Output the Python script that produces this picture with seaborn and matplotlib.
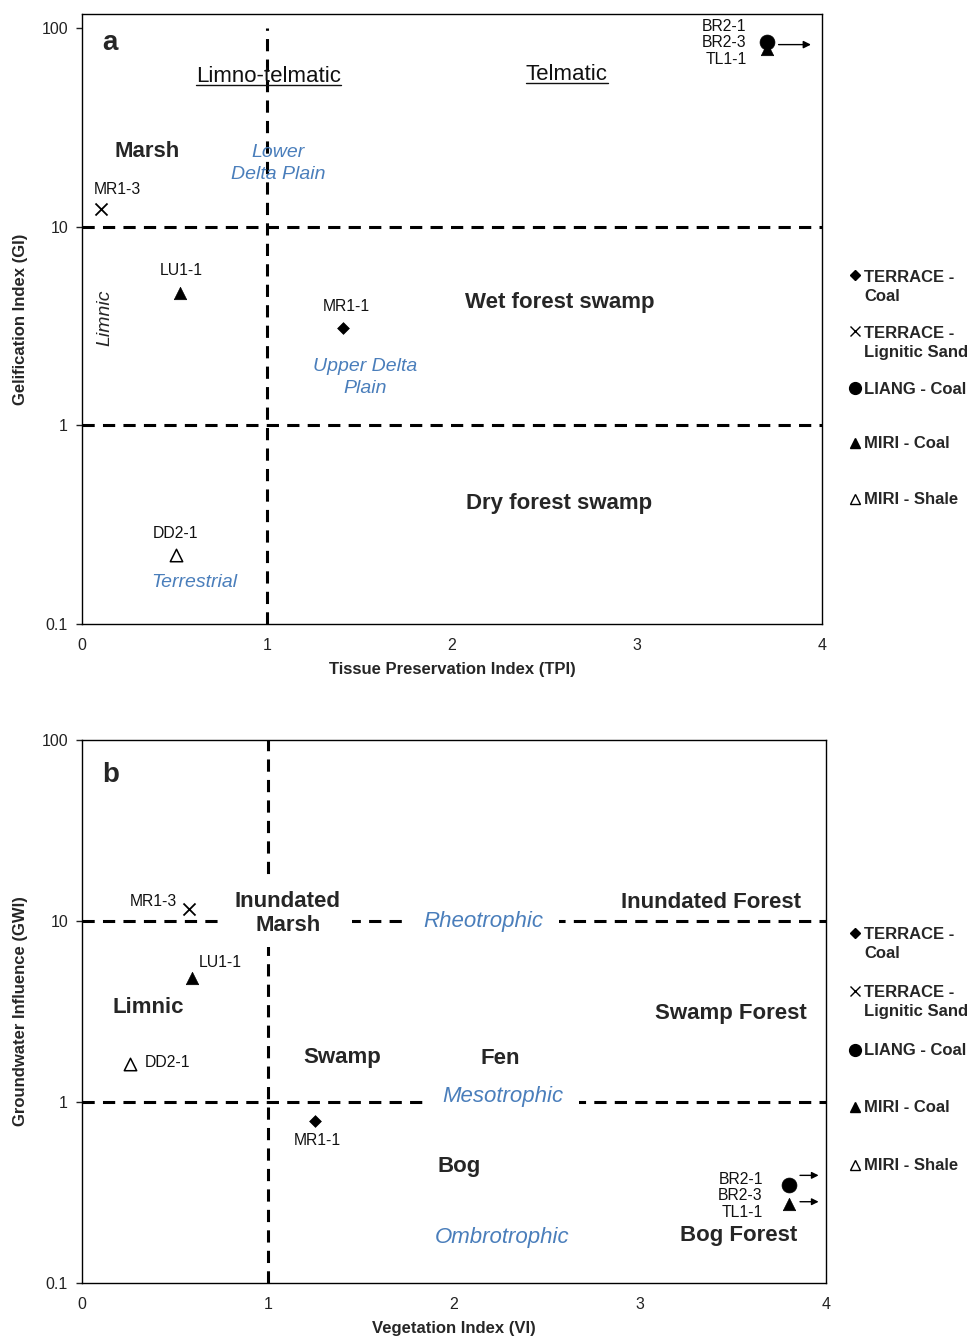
import numpy as np
import pandas as pd
import matplotlib
matplotlib.use("Agg")
import matplotlib.pyplot as plt
import seaborn as sns
from matplotlib.lines import Line2D
from matplotlib.legend_handler import HandlerLine2D
from matplotlib.ticker import NullLocator, FixedLocator, FixedFormatter

# ---------------- data ----------------
groups = ["TERRACE - Coal", "TERRACE - Lignitic Sand", "LIANG - Coal", "MIRI - Coal", "MIRI - Shale"]
legend_labels = ["TERRACE -\nCoal", "TERRACE -\nLignitic Sand", "LIANG - Coal", "MIRI - Coal", "MIRI - Shale"]

sample_group = ["TERRACE - Coal", "TERRACE - Lignitic Sand", "LIANG - Coal", "MIRI - Coal", "MIRI - Coal", "MIRI - Shale"]
sample_label = ["MR1-1", "MR1-3", "BR2-1\nBR2-3\nTL1-1", "", "LU1-1", "DD2-1"]

# panel a : TPI vs GI
a_tpi = [1.41, 0.10, 3.70, 3.70, 0.53, 0.51]
a_gi = [3.1, 12.3, 85.0, 78.0, 4.66, 0.222]
# panel b : VI vs GWI
b_vi = [1.25, 0.575, 3.80, 3.80, 0.59, 0.26]
b_gwi = [0.785, 11.6, 0.348, 0.273, 4.84, 1.62]

x_ticks = [0, 1, 2, 3, 4]
y_ticks = [0.1, 1, 10, 100]
y_ticklabels = ["0.1", "1", "10", "100"]

# ---------------- style ----------------
sns.set_theme(style="white")
plt.rcParams["font.family"] = ["Liberation Sans", "DejaVu Sans"]

BLUE = "#4a7ebb"
marker_style = {
    "TERRACE - Coal": dict(marker="D", s=36, color="black", edgecolor="black", linewidth=0.5),
    "TERRACE - Lignitic Sand": dict(marker="x", s=75, color="black", linewidth=1.3),
    "LIANG - Coal": dict(marker="o", s=115, color="black", edgecolor="black", linewidth=0.5),
    "MIRI - Coal": dict(marker="^", s=80, color="black", edgecolor="black", linewidth=0.5),
    "MIRI - Shale": dict(marker="^", s=80, color="white", edgecolor="black", linewidth=1.1),
}
legend_marker = {
    "TERRACE - Coal": dict(marker="D", markersize=5.3, markerfacecolor="black", markeredgecolor="black"),
    "TERRACE - Lignitic Sand": dict(marker="x", markersize=7.5, markeredgecolor="black", markeredgewidth=1.0),
    "LIANG - Coal": dict(marker="o", markersize=8.5, markerfacecolor="black", markeredgecolor="black"),
    "MIRI - Coal": dict(marker="^", markersize=7.5, markerfacecolor="black", markeredgecolor="black"),
    "MIRI - Shale": dict(marker="^", markersize=7.5, markerfacecolor="white", markeredgecolor="black", markeredgewidth=1.0),
}

DASH = (0, (4, 2.7))
DLW = 2.2


class ShiftHandler(HandlerLine2D):
    def __init__(self, shift=0.0, **kw):
        super().__init__(**kw)
        self.shift = shift

    def create_artists(self, legend, orig_handle, xdescent, ydescent, width, height, fontsize, trans):
        arts = super().create_artists(legend, orig_handle, xdescent, ydescent, width, height, fontsize, trans)
        for a in arts:
            a.set_ydata(np.asarray(a.get_ydata(), dtype=float) + self.shift * fontsize)
        return arts


def add_legend(ax, xpos, ypos):
    for grp, lab, yv in zip(groups, legend_labels, ypos):
        h = Line2D([], [], linestyle="none", **legend_marker[grp])
        n = lab.count("\n")
        leg = ax.legend(handles=[h], labels=[lab], loc="center left", bbox_to_anchor=(xpos, yv),
                        frameon=False, borderpad=0, borderaxespad=0, handlelength=0.6,
                        handletextpad=0.25, prop=dict(weight="bold", size=12),
                        handler_map={h: ShiftHandler(shift=n * 0.7)})
        for t in leg.get_texts():
            t.set_linespacing(1.4)
        ax.add_artist(leg)
    ax.legend_ = None


def style_axes(ax, ymax):
    ax.set_yscale("log")
    ax.set_xlim(0, 4)
    ax.set_ylim(0.1, ymax)
    ax.xaxis.set_major_locator(FixedLocator(x_ticks))
    ax.yaxis.set_major_locator(FixedLocator(y_ticks))
    ax.yaxis.set_major_formatter(FixedFormatter(y_ticklabels))
    ax.yaxis.set_minor_locator(NullLocator())
    ax.tick_params(axis="x", length=0, pad=10, labelsize=11.5, colors="#222222")
    ax.tick_params(axis="y", which="major", left=True, length=4.5, width=1, direction="out",
                   pad=5.5, labelsize=11.5, colors="#222222")
    for sp in ax.spines.values():
        sp.set_color("black")
        sp.set_linewidth(1.0)
    ax.grid(False)


def draw_points(ax, xs, ys, label_offsets):
    df = pd.DataFrame({"x": xs, "y": ys, "group": sample_group, "label": sample_label})
    for grp in groups:
        sub = df[df["group"] == grp]
        if len(sub):
            sns.scatterplot(data=sub, x="x", y="y", ax=ax, legend=False, zorder=5, **marker_style[grp])
    for i, row in df.iterrows():
        if row["label"]:
            dx, dy, ha = label_offsets[i]
            ax.annotate(row["label"], (row["x"], row["y"]), xytext=(dx, dy), textcoords="offset pixels",
                        ha=ha, va="center", fontsize=11.3, linespacing=1.15, color="#111111",
                        multialignment="right" if "\n" in row["label"] else None, zorder=6)
    return df


fig = plt.figure(figsize=(9.74, 13.37), dpi=100)
ax_a = fig.add_axes([0.0842, 0.5333, 0.7598, 0.4562])
ax_b = fig.add_axes([0.0842, 0.0404, 0.7639, 0.4061])

# ================= panel a =================
style_axes(ax_a, 117.5)
ax_a.axhline(10, ls=DASH, lw=DLW, color="black", zorder=2)
ax_a.axhline(1, ls=DASH, lw=DLW, color="black", zorder=2)
ax_a.vlines(1, 0.1, 100, linestyles=[DASH], lw=DLW, color="black", zorder=2)

offs_a = [(3, 21, "center"), (17, 19, "center"), (-20, -1, "right"), None, (1, 22, "center"), (-1, 22, "center")]
dfa = draw_points(ax_a, a_tpi, a_gi, offs_a)
# arrow for off-scale point
xa, ya = a_tpi[2], a_gi[2]
ax_a.annotate("", xy=(xa + 0.24, ya * 0.97), xytext=(xa + 0.065, ya * 0.97),
              arrowprops=dict(arrowstyle="-|>", lw=1.0, color="black", mutation_scale=11,
                              shrinkA=0, shrinkB=0), zorder=6)

ax_a.text(0.038, 0.952, "a", transform=ax_a.transAxes, fontsize=20, fontweight="bold", ha="center", va="center")
t1 = ax_a.text(1.01, 57, "Limno-telmatic", fontsize=16, ha="center", va="center", color="#111111")
t2 = ax_a.text(2.62, 58, "Telmatic", fontsize=16, ha="center", va="center", color="#111111")
ax_a.text(0.35, 24, "Marsh", fontsize=16, fontweight="bold", ha="center", va="center")
ax_a.text(1.06, 20.7, "Lower\nDelta Plain", fontsize=14, style="italic", color=BLUE, ha="center",
          va="center", linespacing=1.4)
ax_a.text(0.124, 3.47, "Limnic", fontsize=14, style="italic", rotation=90, ha="center", va="center")
ax_a.text(2.58, 4.17, "Wet forest swamp", fontsize=16, fontweight="bold", ha="center", va="center")
ax_a.text(1.53, 1.74, "Upper Delta\nPlain", fontsize=14, style="italic", color=BLUE, ha="center",
          va="center", linespacing=1.4)
ax_a.text(2.58, 0.406, "Dry forest swamp", fontsize=16, fontweight="bold", ha="center", va="center")
ax_a.text(0.605, 0.161, "Terrestrial", fontsize=14, style="italic", color=BLUE, ha="center", va="center")

ax_a.set_xlabel("Tissue Preservation Index (TPI)", fontsize=12, fontweight="bold", labelpad=6.5)
ax_a.set_ylabel("Gelification Index (GI)", fontsize=12, fontweight="bold", labelpad=10)
add_legend(ax_a, 1.0378, [0.5525, 0.4607, 0.3852, 0.2951, 0.2033])

# ================= panel b =================
style_axes(ax_b, 100)
ax_b.axhline(10, ls=DASH, lw=DLW, color="black", zorder=2)
ax_b.axhline(1, ls=DASH, lw=DLW, color="black", zorder=2)
ax_b.axvline(1, ls=DASH, lw=DLW, color="black", zorder=2)

offs_b = [(3, -19, "center"), (-12, 8, "right"), (-26, -11, "right"), None, (7, 16, "left"), (14, 2, "left")]
dfb = draw_points(ax_b, b_vi, b_gwi, offs_b)
for yv, fac in [(b_gwi[2], 1.13), (b_gwi[3], 1.03)]:
    xb = b_vi[2]
    ax_b.annotate("", xy=(xb + 0.16, yv * fac), xytext=(xb + 0.06, yv * fac),
                  arrowprops=dict(arrowstyle="-|>", lw=1.0, color="black", mutation_scale=10,
                                  shrinkA=0, shrinkB=0), zorder=6)

ax_b.text(0.038, 0.935, "b", transform=ax_b.transAxes, fontsize=20, fontweight="bold", ha="center", va="center")
ax_b.text(1.107, 11.0, "Inundated\nMarsh", fontsize=16, fontweight="bold", ha="center", va="center",
          linespacing=1.2, bbox=dict(boxstyle="square,pad=0.5", fc="white", ec="none"), zorder=4)
ax_b.text(2.16, 9.95, "Rheotrophic", fontsize=16, style="italic", color=BLUE, ha="center", va="center",
          bbox=dict(boxstyle="square,pad=0.7", fc="white", ec="none"), zorder=4)
ax_b.text(3.38, 12.6, "Inundated Forest", fontsize=16, fontweight="bold", ha="center", va="center")
ax_b.text(0.355, 3.33, "Limnic", fontsize=16, fontweight="bold", ha="center", va="center")
ax_b.text(3.49, 3.08, "Swamp Forest", fontsize=16, fontweight="bold", ha="center", va="center")
ax_b.text(1.40, 1.76, "Swamp", fontsize=16, fontweight="bold", ha="center", va="center")
ax_b.text(2.25, 1.75, "Fen", fontsize=16, fontweight="bold", ha="center", va="center")
ax_b.text(2.26, 1.07, "Mesotrophic", fontsize=16, style="italic", color=BLUE, ha="center", va="center",
          bbox=dict(boxstyle="square,pad=0.7", fc="white", ec="none"), zorder=4)
ax_b.text(2.03, 0.44, "Bog", fontsize=16, fontweight="bold", ha="center", va="center")
ax_b.text(2.26, 0.179, "Ombrotrophic", fontsize=16, style="italic", color=BLUE, ha="center", va="center")
ax_b.text(3.53, 0.183, "Bog Forest", fontsize=16, fontweight="bold", ha="center", va="center")

ax_b.set_xlabel("Vegetation Index (VI)", fontsize=12, fontweight="bold", labelpad=6.5)
ax_b.set_ylabel("Groundwater Influence (GWI)", fontsize=12, fontweight="bold", labelpad=10)
add_legend(ax_b, 1.0323, [0.6243, 0.5175, 0.4273, 0.3223, 0.2155])

# underline for zone titles
fig.canvas.draw()
r = fig.canvas.get_renderer()
W, H = fig.bbox.width, fig.bbox.height
for t in (t1, t2):
    bb = t.get_window_extent(r)
    yy = (bb.y0 + 2.0) / H
    fig.add_artist(Line2D([bb.x0 / W, bb.x1 / W], [yy, yy], transform=fig.transFigure,
                          color="#111111", lw=1.0))

fig.savefig("out.png", dpi=100)
